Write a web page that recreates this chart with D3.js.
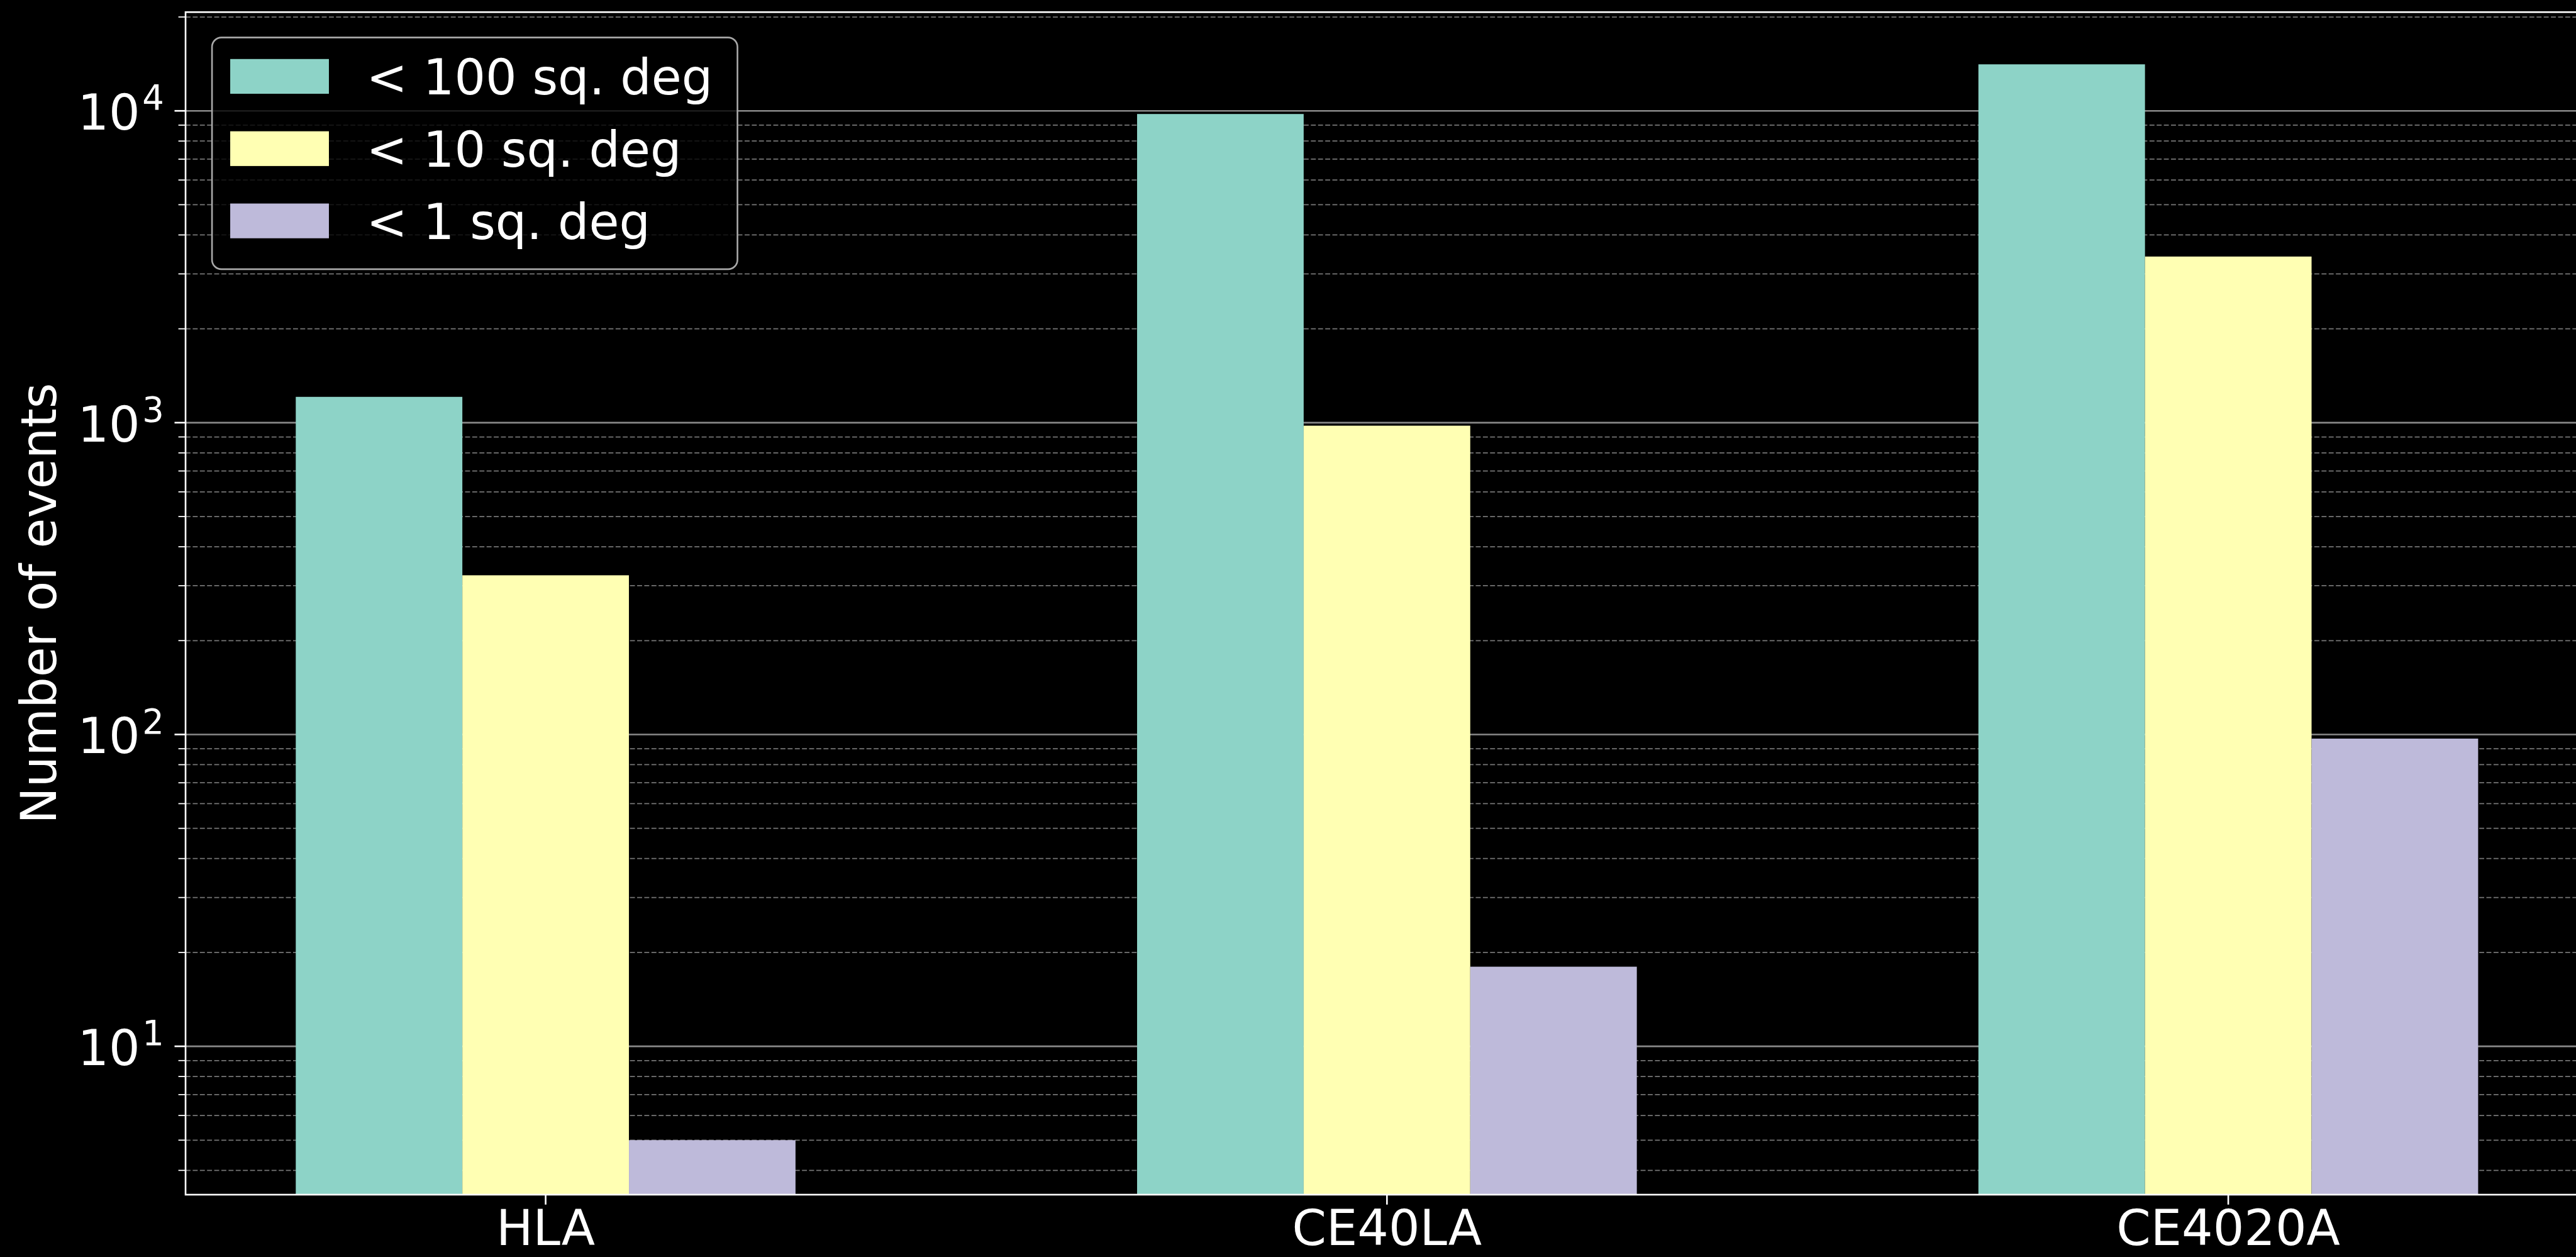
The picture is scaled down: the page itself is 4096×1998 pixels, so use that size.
<!DOCTYPE html>
<html>
<head>
<meta charset="utf-8">
<script src="https://cdn.jsdelivr.net/npm/d3@7"></script>
<style>
  html, body { margin: 0; padding: 0; background: #000; overflow: hidden; }
  svg { display: block; }
  text { font-family: "DejaVu Sans", sans-serif; fill: #fff; }
</style>
</head>
<body>
<svg id="chart"></svg>
<script>
// Detector networks and number of events localized better than each sky-area threshold
const categories = ["HLA", "CE40LA", "CE4020A"];
const seriesNames = ["< 100 sq. deg", "< 10 sq. deg", "< 1 sq. deg"];
const under100 = [1210, 9770, 14100];
const under10 = [324, 978, 3410];
const under1 = [5, 18, 97];
const seriesColors = ["#8dd3c7", "#ffffb3", "#bebada"];
const yMajorTicks = [10, 100, 1000, 10000];
const yTickExponents = ["1", "2", "3", "4"];

const seriesValues = [under100, under10, under1];

// Layout in a 4671 x 2279 drawing space, scaled to the window by the viewBox
const W = 4671, H = 2279;
const plot = { left: 336, right: 4697, top: 22, bottom: 2166 };
const fontSize = 89;

const svg = d3.select("#chart")
  .attr("width", 4096)
  .attr("height", 1998)
  .attr("viewBox", `0 0 ${W} ${H}`);

svg.append("rect").attr("width", W).attr("height", H).attr("fill", "#000");

const x = d3.scaleLinear().domain([-0.428, 2.43]).range([plot.left, plot.right]);
const y = d3.scaleLog().domain([3.343, 20730]).range([plot.bottom, plot.top]);
const barWidth = 0.198;

// Minor tick values (2..9 x each decade) inside the y domain
const minorTicks = [];
[1, 10, 100, 1000, 10000].forEach(d => {
  for (let k = 2; k <= 9; k++) {
    const v = k * d;
    if (v >= y.domain()[0] && v <= y.domain()[1]) minorTicks.push(v);
  }
});

svg.append("clipPath").attr("id", "plotclip")
  .append("rect")
  .attr("x", plot.left).attr("y", plot.top)
  .attr("width", plot.right - plot.left).attr("height", plot.bottom - plot.top);

// Grid (drawn below the bars)
const grid = svg.append("g").attr("clip-path", "url(#plotclip)");
grid.selectAll("line.minor").data(minorTicks).join("line")
  .attr("class", "minor")
  .attr("x1", plot.left).attr("x2", plot.right)
  .attr("y1", d => y(d)).attr("y2", d => y(d))
  .attr("stroke", "#767676").attr("stroke-width", 2)
  .attr("stroke-dasharray", "9,4");
grid.selectAll("line.major").data(yMajorTicks).join("line")
  .attr("class", "major")
  .attr("x1", plot.left).attr("x2", plot.right)
  .attr("y1", d => y(d)).attr("y2", d => y(d))
  .attr("stroke", "#8a8a8a").attr("stroke-width", 3);

// Bars
const bars = svg.append("g").attr("clip-path", "url(#plotclip)");
seriesValues.forEach((vals, j) => {
  bars.selectAll(`rect.s${j}`).data(vals).join("rect")
    .attr("class", `s${j}`)
    .attr("x", (d, i) => x(i + (j - 1) * barWidth - barWidth / 2))
    .attr("width", x(barWidth) - x(0))
    .attr("y", d => y(d))
    .attr("height", d => plot.bottom - y(d))
    .attr("fill", seriesColors[j]);
});

// Y axis ticks
const yAxisG = svg.append("g");
yAxisG.selectAll("line.ymaj").data(yMajorTicks).join("line")
  .attr("x1", plot.left - 20).attr("x2", plot.left)
  .attr("y1", d => y(d)).attr("y2", d => y(d))
  .attr("stroke", "#fff").attr("stroke-width", 3);
yAxisG.selectAll("line.ymin").data(minorTicks).join("line")
  .attr("x1", plot.left - 13).attr("x2", plot.left)
  .attr("y1", d => y(d)).attr("y2", d => y(d))
  .attr("stroke", "#fff").attr("stroke-width", 2);

const yLabels = yAxisG.selectAll("text.ylab").data(yMajorTicks).join("text")
  .attr("class", "ylab")
  .attr("x", 297)
  .attr("y", d => y(d) + 34)
  .attr("text-anchor", "end")
  .attr("font-size", fontSize);
yLabels.append("tspan").text("10");
yLabels.append("tspan")
  .attr("dy", -36)
  .attr("dx", 4)
  .attr("font-size", 62)
  .text((d, i) => yTickExponents[i]);

// X axis ticks and labels
const xAxisG = svg.append("g");
xAxisG.selectAll("line").data(categories).join("line")
  .attr("x1", (d, i) => x(i)).attr("x2", (d, i) => x(i))
  .attr("y1", plot.bottom).attr("y2", plot.bottom + 18)
  .attr("stroke", "#fff").attr("stroke-width", 3);
xAxisG.selectAll("text").data(categories).join("text")
  .attr("x", (d, i) => x(i))
  .attr("y", 2257)
  .attr("text-anchor", "middle")
  .attr("font-size", fontSize)
  .text(d => d);

// Spines
svg.append("rect")
  .attr("x", plot.left).attr("y", plot.top)
  .attr("width", plot.right - plot.left).attr("height", plot.bottom - plot.top)
  .attr("fill", "none").attr("stroke", "#fff").attr("stroke-width", 3);

// Y axis title
svg.append("text")
  .attr("transform", `translate(101, ${(plot.top + plot.bottom) / 2}) rotate(-90)`)
  .attr("text-anchor", "middle")
  .attr("font-size", fontSize)
  .text("Number of events");

// Legend
const legend = svg.append("g");
legend.append("rect")
  .attr("x", 384).attr("y", 68)
  .attr("width", 1337 - 384).attr("height", 488 - 68)
  .attr("rx", 17).attr("ry", 17)
  .attr("fill", "#000").attr("fill-opacity", 0.8)
  .attr("stroke", "#a8a8a8").attr("stroke-width", 3);
const rowY = [139, 270, 401];
const entries = legend.selectAll("g.entry").data(seriesNames).join("g")
  .attr("class", "entry");
entries.append("rect")
  .attr("x", 417).attr("y", (d, i) => rowY[i] - 32)
  .attr("width", 179).attr("height", 63)
  .attr("fill", (d, i) => seriesColors[i]);
entries.append("text")
  .attr("x", 664).attr("y", (d, i) => rowY[i] + 32)
  .attr("font-size", fontSize)
  .text(d => d);
</script>
</body>
</html>
